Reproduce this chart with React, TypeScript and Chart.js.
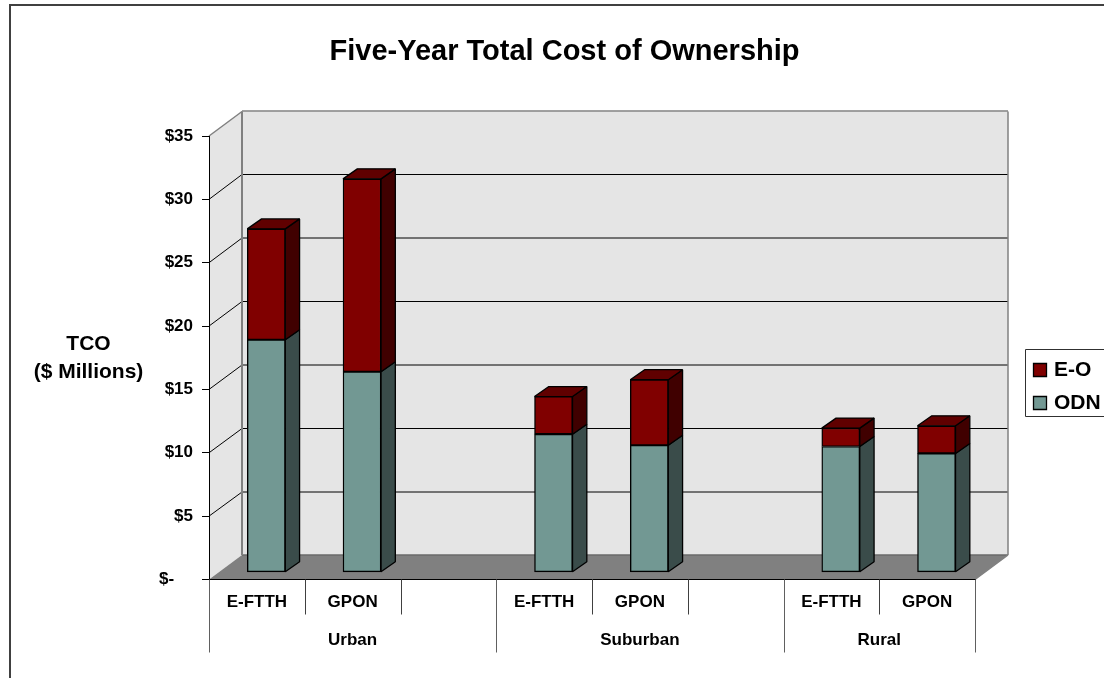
import React, { useEffect, useRef } from "react";
import { Chart, registerables } from "chart.js";

Chart.register(...registerables);

const categories = ["E-FTTH", "GPON", "", "E-FTTH", "GPON", "", "E-FTTH", "GPON"];
const odnValues = [18.35, 15.83, null, 10.9, 10.03, null, 9.93, 9.38];
const eoValues = [8.75, 15.22, null, 2.97, 5.17, null, 1.45, 2.18];
const regions = ["Urban", "Suburban", "Rural"];
const regionStarts = [0, 3, 6];
const regionEnds = [3, 6, 8];
const chartTitle = "Five-Year Total Cost of Ownership";
const axisTitleLines = ["TCO", "($ Millions)"];

const FONT = '"Liberation Sans", Arial, sans-serif';
const WALL = "#e5e5e5";
const FLOOR = "#808080";
const EDGE = "#808080";
const FACE_COLORS = { ODN: "#729893", "E-O": "#800000" };
const SIDE_COLORS = { ODN: "#3a4c4a", "E-O": "#400000" };
const TOP_COLORS = { ODN: "#56726e", "E-O": "#600000" };

// Depth of the room behind the axes, and of each bar and its position in that room.
const ROOM_DX = 33;
const ROOM_DY = 24.5;
const BAR_SHIFT_X = 9.4;
const BAR_SHIFT_Y = 7.2;
const BAR_DX = 14.3;
const BAR_DY = 10;
const TITLE_SHIFT = 77;
const TITLE_SIZE = 29;

function polygon(ctx, pts, fill, stroke, width = 1.3) {
  ctx.beginPath();
  pts.forEach(([x, y], i) => (i ? ctx.lineTo(x, y) : ctx.moveTo(x, y)));
  ctx.closePath();
  if (fill) {
    ctx.fillStyle = fill;
    ctx.fill();
  }
  if (stroke) {
    ctx.strokeStyle = stroke;
    ctx.lineWidth = width;
    ctx.stroke();
  }
}

function line(ctx, x0, y0, x1, y1, color, width = 1) {
  ctx.beginPath();
  ctx.moveTo(x0, y0);
  ctx.lineTo(x1, y1);
  ctx.strokeStyle = color;
  ctx.lineWidth = width;
  ctx.stroke();
}

// Frame, walls, floor and gridlines of the box behind the bars.
const roomPlugin = {
  id: "room",
  beforeDraw(chart) {
    const { ctx, chartArea: a, scales } = chart;
    const y = scales.y;
    ctx.save();
    ctx.lineJoin = "miter";

    ctx.fillStyle = "#404040";
    ctx.fillRect(9, 4, 2, chart.height - 4);
    ctx.fillRect(9, 4, chart.width - 9, 2);

    const bx = a.left + ROOM_DX;
    const br = a.right + ROOM_DX;
    const bt = a.top - ROOM_DY;
    const bb = a.bottom - ROOM_DY;

    polygon(ctx, [[a.left, a.top], [bx, bt], [bx, bb], [a.left, a.bottom]], WALL, null);
    polygon(ctx, [[bx, bt], [br, bt], [br, bb], [bx, bb]], WALL, null);

    y.ticks.forEach((t) => {
      const v = t.value;
      if (v === 0 || v === 35) return;
      const fy = y.getPixelForValue(v);
      const by = fy - ROOM_DY;
      // Lines at odd multiples of five fall between two pixel rows.
      const ry = v % 10 === 0 ? Math.floor(by) + 0.5 : Math.round(by);
      line(ctx, bx, ry, br, ry, "#000000");
      line(ctx, a.left, fy, bx, ry, "#000000");
    });

    polygon(ctx, [[a.left, a.bottom], [bx, bb], [br, bb], [a.right, a.bottom]], FLOOR, null);
    line(ctx, bx, bb, br, bb, "#6a6a6a", 1.5);
    line(ctx, a.left, a.top, bx, bt, EDGE, 1.5);
    line(ctx, bx, bt - 0.5, br, bt - 0.5, EDGE, 1.5);
    line(ctx, bx, bt, bx, bb, EDGE, 2);
    line(ctx, br, bt, br, bb, EDGE, 1.5);
    line(ctx, br, bb, a.right, a.bottom, EDGE, 1.5);
    ctx.restore();
  },
};

// Side and top faces of each stacked segment; the bars themselves are shifted into the room.
const extrudePlugin = {
  id: "extrude",
  beforeDatasetsDraw(chart) {
    const { ctx } = chart;
    ctx.save();
    ctx.translate(BAR_SHIFT_X, -BAR_SHIFT_Y);
    ctx.lineJoin = "bevel";
    chart.data.datasets.forEach((ds, di) => {
      chart.getDatasetMeta(di).data.forEach((bar, i) => {
        if (ds.data[i] == null) return;
        const r = bar.x + bar.width / 2;
        polygon(ctx, [[r, bar.y], [r + BAR_DX, bar.y - BAR_DY], [r + BAR_DX, bar.base - BAR_DY], [r, bar.base]], SIDE_COLORS[ds.label], "#000000");
      });
    });
    const topIndex = chart.data.datasets.length - 1;
    chart.getDatasetMeta(topIndex).data.forEach((bar, i) => {
      const ds = chart.data.datasets[topIndex];
      if (ds.data[i] == null) return;
      const l = bar.x - bar.width / 2;
      const r = bar.x + bar.width / 2;
      polygon(ctx, [[l, bar.y], [l + BAR_DX, bar.y - BAR_DY], [r + BAR_DX, bar.y - BAR_DY], [r, bar.y]], TOP_COLORS[ds.label], "#000000");
    });
  },
  afterDatasetsDraw(chart) {
    chart.ctx.restore();
  },
};

// Two-level category dividers, region names, axis caption and legend.
const annotationPlugin = {
  id: "annotation",
  afterLayout(chart) {
    chart.titleBlock.left += TITLE_SHIFT;
    chart.titleBlock.right += TITLE_SHIFT;
  },
  afterDraw(chart) {
    const { ctx, chartArea: a, scales } = chart;
    const x = scales.x;
    const step = (a.right - a.left) / categories.length;
    const edge = (i) => x.getPixelForValue(i) - step / 2;
    ctx.save();

    categories.forEach((_, i) => {
      if (regionStarts.includes(i)) return;
      const px = Math.round(edge(i)) + 0.5;
      line(ctx, px, a.bottom, px, a.bottom + 35, "#404040");
    });
    regionStarts.concat(categories.length).forEach((i) => {
      const px = Math.round(edge(i)) + 0.5;
      line(ctx, px, a.bottom, px, a.bottom + 73, "#606060");
    });

    ctx.fillStyle = "#000000";
    ctx.textAlign = "center";
    ctx.textBaseline = "middle";
    ctx.font = `bold 17px ${FONT}`;
    regions.forEach((name, i) => {
      ctx.fillText(name, (edge(regionStarts[i]) + edge(regionEnds[i])) / 2, 640);
    });

    ctx.font = `bold 21px ${FONT}`;
    axisTitleLines.forEach((text, i) => ctx.fillText(text, 88.5, 344 + i * 28));

    ctx.strokeStyle = "#303030";
    ctx.lineWidth = 1;
    ctx.beginPath();
    ctx.moveTo(chart.width, 349.5);
    ctx.lineTo(1025.5, 349.5);
    ctx.lineTo(1025.5, 416.5);
    ctx.lineTo(chart.width, 416.5);
    ctx.stroke();

    ctx.textAlign = "left";
    ctx.font = `bold 21px ${FONT}`;
    [...chart.data.datasets].reverse().forEach((ds, i) => {
      const top = 362.5 + i * 33.5;
      const row = Math.round(top) + 0.5;
      polygon(ctx, [[1033.5, row], [1046.5, row], [1046.5, row + 13], [1033.5, row + 13]], ds.backgroundColor, "#000000");
      ctx.fillStyle = "#000000";
      ctx.fillText(ds.label, 1054, row + 7);
    });
    ctx.restore();
  },
};

export default function App() {
  const ref = useRef<HTMLCanvasElement>(null);

  useEffect(() => {
    const chart = new Chart(ref.current, {
      type: "bar",
      data: {
        labels: categories,
        datasets: [
          { label: "ODN", data: odnValues, backgroundColor: FACE_COLORS.ODN, borderColor: "#000000", borderWidth: 1.4, borderSkipped: false, stack: "tco", clip: false },
          { label: "E-O", data: eoValues, backgroundColor: FACE_COLORS["E-O"], borderColor: "#000000", borderWidth: 1.4, borderSkipped: false, stack: "tco", clip: false },
        ],
      },
      options: {
        responsive: false,
        animation: false,
        events: [],
        layout: { padding: { left: 0, right: 129, top: 0, bottom: 0 } },
        datasets: { bar: { barThickness: 38 } },
        plugins: {
          legend: { display: false },
          tooltip: { enabled: false },
          title: {
            display: true,
            text: chartTitle,
            color: "#000000",
            font: { family: FONT, size: TITLE_SIZE, weight: "bold", lineHeight: 1.2 },
            padding: { top: 35, bottom: 136 - 35 - TITLE_SIZE * 1.2 },
          },
        },
        scales: {
          x: {
            stacked: true,
            afterFit: (s) => {
              s.height = 678 - 579.5;
            },
            grid: { display: false },
            border: { display: true, color: "#000000", width: 1 },
            ticks: {
              color: "#000000",
              autoSkip: false,
              maxRotation: 0,
              padding: 5,
              font: { family: FONT, size: 17, weight: "bold" },
            },
          },
          y: {
            stacked: true,
            min: 0,
            max: 35,
            afterFit: (s) => {
              s.width = 209;
            },
            grid: { drawOnChartArea: false, drawTicks: true, tickLength: 7, color: "#000000" },
            border: { display: true, color: "#000000", width: 1 },
            ticks: {
              stepSize: 5,
              color: "#000000",
              padding: 9,
              font: { family: FONT, size: 17, weight: "bold" },
              callback: (v) => (v === 0 ? "$-    " : `$${v}`),
            },
          },
        },
      },
      plugins: [roomPlugin, extrudePlugin, annotationPlugin],
    });
    return () => chart.destroy();
  }, []);

  return (
    <div style={{ position: "absolute", left: 0, top: 0, width: 1104, height: 678, background: "#ffffff" }}>
      <canvas ref={ref} width={1104} height={678} style={{ display: "block" }} />
    </div>
  );
}
